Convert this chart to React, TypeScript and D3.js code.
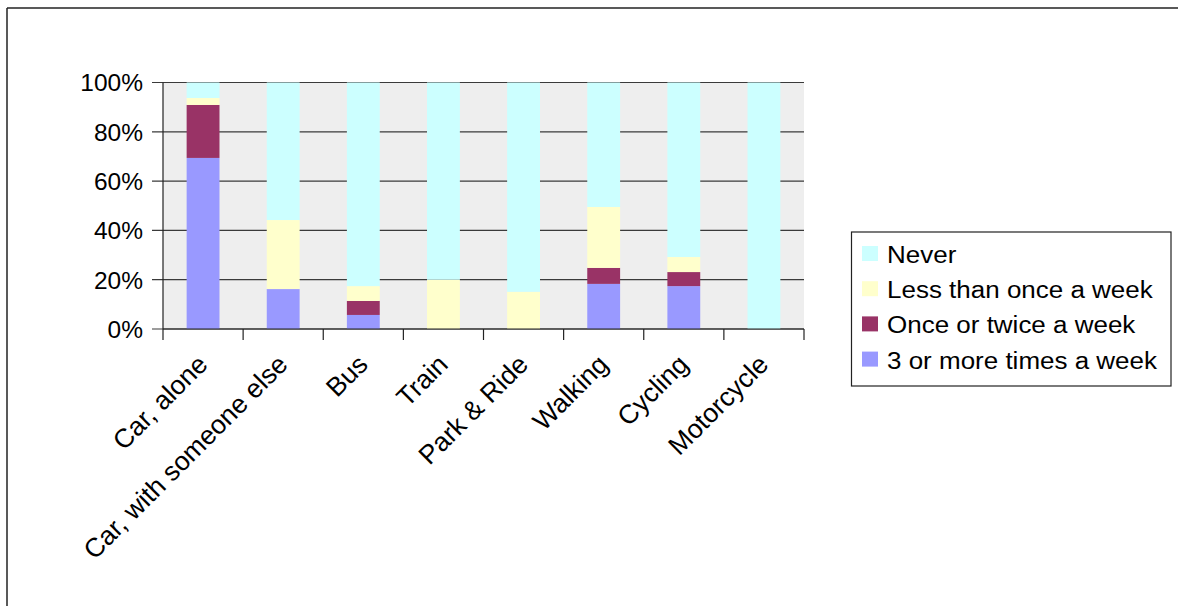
import React from "react";
import * as d3 from "d3";

const categories = ["Car, alone", "Car, with someone else", "Bus", "Train", "Park & Ride", "Walking", "Cycling", "Motorcycle"];
const seriesNames = ["3 or more times a week", "Once or twice a week", "Less than once a week", "Never"];
const threeOrMore = [69.4, 16.2, 5.7, 0, 0, 18.3, 17.4, 0];
const onceOrTwice = [21.5, 0, 5.7, 0, 0, 6.5, 5.7, 0];
const lessThanOnce = [2.8, 28.0, 6.0, 20.0, 15.1, 24.7, 6.1, 0];
const never = [6.3, 55.8, 82.6, 80.0, 84.9, 50.5, 70.8, 100];
const yTicks = [0, 20, 40, 60, 80, 100];
const colors = ["#9999FF", "#993366", "#FFFFCC", "#CCFFFF"];
const legendOrder = [3, 2, 1, 0];

export default function App() {
  const W = 1178, H = 606;
  const left = 163, right = 804, top = 82.5, bottom = 329;
  const x = d3.scaleBand<string>().domain(categories).range([left, right]).paddingInner(0.59).paddingOuter(0.295);
  const xb = d3.scaleBand<string>().domain(categories).range([left, right]);
  const y = d3.scaleLinear().domain([0, 100]).range([bottom, top]);
  const seriesVals = [threeOrMore, onceOrTwice, lessThanOnce, never];
  const rows = categories.map((c, i) => {
    const o: any = { cat: c };
    seriesNames.forEach((s, k) => (o[s] = seriesVals[k][i]));
    return o;
  });
  const stacked = d3.stack<any>().keys(seriesNames)(rows);
  const font = "'Liberation Sans', Arial, sans-serif";
  return (
    <svg width={W} height={H} style={{ position: "absolute", left: 0, top: 0, background: "#fff" }} fontFamily={font}>
      <line x1={7} y1={8} x2={W} y2={8} stroke="#222" strokeWidth={1.5} />
      <line x1={7} y1={8} x2={7} y2={H} stroke="#222" strokeWidth={1.5} />
      <rect x={left} y={top} width={right - left} height={bottom - top} fill="#EEEEEE" />
      {yTicks.map((t) => (
        <g key={t}>
          <line x1={left - 11} x2={right} y1={y(t)} y2={y(t)} stroke="#3a3a3a" strokeWidth={1.2} />
          <text x={143} y={y(t)} dy="0.36em" textAnchor="end" fontSize={24.5} fill="#000">{t}%</text>
        </g>
      ))}
      {stacked.map((s, k) => (
        <g key={s.key} fill={colors[k]}>
          {s.map((d, i) => (
            <rect key={i} x={x(categories[i])} width={x.bandwidth()} y={y(d[1])} height={Math.max(0, y(d[0]) - y(d[1]))} />
          ))}
        </g>
      ))}
      <line x1={left} x2={left} y1={top} y2={bottom + 11} stroke="#222" strokeWidth={1.2} />
      <line x1={left} x2={right} y1={bottom} y2={bottom} stroke="#222" strokeWidth={1.2} />
      {categories.map((c, i) => (
        <line key={c} x1={xb(c)! + xb.bandwidth()} x2={xb(c)! + xb.bandwidth()} y1={bottom} y2={bottom + 11} stroke="#222" strokeWidth={1.2} />
      ))}
      {categories.map((c) => {
        const cx = xb(c)! + xb.bandwidth() / 2 + 6;
        return (
          <text key={c} transform={`translate(${cx},366) rotate(-45)`} textAnchor="end" fontSize={26.5} fill="#000">{c}</text>
        );
      })}
      <rect x={851.5} y={232} width={319.5} height={154} fill="#fff" stroke="#222" strokeWidth={1.2} />
      {legendOrder.map((k, j) => {
        const by = 263 + j * 35.2;
        return (
          <g key={k}>
            <rect x={862} y={by - 17} width={16} height={15} fill={colors[k]} />
            <text transform={`translate(887,${by}) scale(1.13,1)`} fontSize={23} fill="#000">{seriesNames[k]}</text>
          </g>
        );
      })}
    </svg>
  );
}
